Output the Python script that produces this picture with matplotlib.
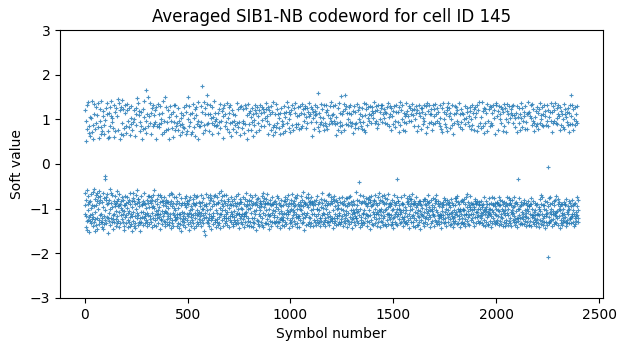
import numpy as np
import matplotlib
matplotlib.use("Agg")
import matplotlib.pyplot as plt

# averaged soft values, in hundredths, one per symbol (40 symbols per row)
soft_values_x100 = [
    -93, 121, -112, -64, 51, -116, -142, -81, 97, -127, 78, -58, -147, 131, -89, -104, -71, 138, -125, 69, -118, -86, -152, 84, -114, 62, -83, -128, 106, -133, -67, 102, -98, 141, -91, -124, 72, -111, -139, 56,
    88, -118, -63, 134, -95, -57, -129, 112, -79, -150, 79, -123, -108, -70, 91, -137, 127, -92, -66, -121, -84, 109, -145, 82, -74, 136, -100, -126, 59, -61, -88, -134, 124, -72, 96, -115, -80, 140, -130, 66,
    -113, 82, -129, -86, -141, 73, -122, 107, -65, 118, -96, -146, 87, -117, -135, -76, 66, -27, -33, 99, -126, -102, 125, -81, -73, -132, 111, -90, -67, 136, -119, 58, -155, 74, -87, -121, -109, 61, -128, 114,
    -80, 127, -101, -136, 85, -56, 108, -122, 140, -88, -64, -131, -97, 104, -69, 93, -115, -124, -145, 81, -84, 60, -111, 132, -130, -95, -72, 116, -90, 73, -139, -106, 125, -87, -123, -60, 107, -82, -132, -117,
    77, -95, -127, 146, -78, 137, -107, -91, -141, -68, 120, -89, 55, -133, -114, 68, 128, -84, -99, -124, -74, 143, -102, 92, -130, 64, -112, -80, 122, -105, -138, 80, -93, -147, 115, -71, -92, -119, 132, -87,
    -115, 86, -132, 70, 121, -99, -73, 135, -126, 96, -86, -142, -110, 83, -106, -130, 126, -81, 65, -118, -139, -90, -66, 104, -135, 89, -113, 129, -96, -151, 76, -117, -84, -128, 93, -108, -65, -77, 120, -138,
    101, -82, -133, -117, -90, 63, -144, 113, -101, 88, -69, 126, -122, -58, -110, 147, -88, -136, 137, -79, -78, -114, 109, -131, -85, 118, -95, 73, -150, 95, -120, -132, -71, -108, 85, -129, 116, -92, 57, -119,
    -90, 124, -107, 78, -137, -83, 105, -87, -121, -66, 141, -112, 81, -132, -117, -89, -99, 69, 165, -125, 97, -80, -140, 112, -131, -109, -72, 86, -115, 151, -88, -134, -71, 107, -96, -124, 136, -84, 92, -117,
    67, -130, -88, 115, -74, -97, -142, 125, -110, -81, 84, -121, 133, -94, -69, 110, -137, 89, -99, -59, -125, 121, -83, -114, 94, -139, 57, -105, 127, -78, -112, -120, -90, 85, 135, -111, -70, -102, -132, 90,
    -119, 83, 112, -96, -146, -69, -86, 129, -113, 101, -73, -125, 92, -124, -105, -84, 66, -134, 114, -91, 142, -117, -82, -74, -128, 97, -110, 71, -140, 149, -88, -106, -131, -80, 77, 127, -108, -94, -86, -123,
    95, -109, -135, 120, -85, 79, -117, -99, -137, -70, 106, -129, 56, -112, -89, 130, -122, -66, 113, -82, -144, 96, -95, -125, -68, -132, 81, 116, -109, -87, 60, -138, -99, -114, 132, -75, 93, -126, -102, 75,
    -118, 133, -89, 84, -124, -74, 107, -139, 92, -119, -111, -83, 76, -133, 125, -99, -67, 97, -143, -112, -87, 64, -121, 87, -135, -113, -91, 104, -76, -149, 114, 90, -107, -127, 72, -88, -124, -117, 82, -136,
    109, -87, 80, -130, -109, 128, -77, -93, -121, -141, 68, 117, -96, -71, 133, -125, -87, -111, 74, -84, -134, 151, -90, 100, -117, 84, -147, -109, -81, 130, -104, -73, 93, -129, 113, -94, -138, 66, -118, -112,
    -100, 72, -126, 115, -87, -114, -78, 135, -132, 83, -89, 103, -144, -69, 123, -109, -92, -121, 62, -139, 110, -88, -75, 127, -129, 89, -115, -104, -72, 96, -135, 55, -113, 138, -85, -124, 85, -107, -95, -131,
    84, -117, -88, 130, -70, -109, -140, 93, -125, -100, 117, 175, -86, -133, 70, -100, -114, -76, 139, -121, 88, -91, -150, 113, -109, 76, -159, 125, -89, -119, -94, -68, 134, -130, 89, -103, 155, -75, -126, 111,
    -132, 92, -122, -88, -112, 74, -138, 113, -81, 132, -100, -69, 104, -125, -76, -117, -145, 128, 91, -94, -121, 67, -117, -84, -135, 106, -110, 87, 140, -90, -72, -129, 96, -70, 114, -125, -89, -141, 84, -103,
    101, -124, -75, 88, -131, -109, -88, 70, -136, 114, -86, 93, -118, -66, 122, -132, -111, -99, 81, -143, 134, -80, -113, 97, -61, -126, -90, 118, -104, -71, 58, 126, -139, -94, 108, -120, -69, -83, 132, -116,
    -88, 111, -132, -103, 86, -120, -70, -128, 95, -113, 137, -91, 78, -136, -107, 103, -84, -121, -78, 127, -99, 114, -142, 72, -89, -117, 131, 91, -125, -75, -107, -93, 62, -131, 121, -111, -82, 94, -117, -135,
    79, -92, 113, -139, -78, 96, -119, -126, -105, 87, -130, -88, 109, -71, -134, -115, -95, 71, 92, -125, -110, 137, -87, -100, -133, 82, -67, 122, -112, 94, -144, -113, -90, -79, 65, 128, -121, -86, -99, -129,
    -116, 130, -86, 81, -135, -111, -101, 91, 124, -73, -124, 96, -112, -142, 70, -117, -89, -109, 132, -78, 90, -131, -107, -94, -66, 125, -117, 56, -137, 110, -92, -83, -120, 135, -100, 75, -127, -90, 114, -80,
    -138, 90, -99, 118, -70, -130, 105, -83, -139, -110, 77, -91, 125, -122, -75, 93, -141, 113, -88, 63, -131, -105, -120, 87, 99, -133, 120, -89, -69, 132, -113, -85, -102, 71, -148, 115, -79, 127, -92, -125,
    108, -76, -128, 91, -134, -96, -113, 75, -139, 121, -88, -117, -82, 131, -104, 84, -130, -90, 114, -95, -72, -136, 99, -121, 128, -84, -65, -110, 124, -141, -96, 86, 116, -76, -115, 103, -133, -89, -88, 136,
    -102, 124, -79, -132, -87, 107, -124, 96, -68, 128, -112, -88, 67, -135, -116, -100, 89, -145, 120, -81, -90, -114, -128, 112, 77, -91, -138, 129, -109, -89, -74, 117, -129, -102, 83, -90, 139, 65, -119, -85,
    88, -115, -129, -82, -133, 72, 111, -105, -89, 134, -127, 82, -96, -118, -71, 123, -139, 92, -100, 113, -130, -77, 80, -131, -110, 102, -88, -124, 68, -143, 115, -92, -95, -121, 126, -81, -106, -136, 84, -112,
    -125, 97, -92, 70, -126, -119, 89, -140, 114, -84, -109, 129, -75, 105, -129, -83, 73, -111, -134, 117, -90, 139, -102, -79, 91, -122, -108, -69, 128, -113, -95, 81, -144, 116, 100, -87, -126, 71, -133, -105,
    113, -131, -80, 121, -100, -89, -121, -67, 132, 87, -138, -102, -88, -115, 76, 126, -108, -94, -83, -127, 114, -73, 137, -134, -91, 82, -118, -112, 90, -77, -132, 107, -69, -100, -142, 127, -117, 89, -89, -120,
    -95, 78, -141, 110, -116, -85, 129, -100, -126, 81, -102, 115, -71, -92, -133, -111, 134, -80, 86, -121, -63, 122, -94, -129, 112, -86, 96, -147, -109, 125, -87, -119, -89, 130, -75, 106, -136, 80, -114, -93,
    126, -110, 91, -76, -134, 117, -96, -68, -130, 136, -86, -118, 108, -82, -140, -90, 113, -122, 95, -73, -104, 128, -132, -85, 63, -113, 123, -87, -100, 103, -138, -92, 116, -125, -82, 79, -111, 132, -130, 109,
    -89, 119, -117, -81, 94, -137, 112, -100, -72, 127, -126, -100, -90, 160, 82, -113, -132, 115, -86, -131, -102, 73, -139, 106, -120, 90, -122, -78, -128, 94, -96, 135, -66, -115, -88, 123, -134, 87, -99, -110,
    104, -80, -131, 131, -111, 76, -93, -126, 91, -121, -140, 85, 116, -100, -84, 132, -129, -92, -113, 78, 121, -87, -69, -129, -118, 110, -136, 89, -107, -68, 130, -127, -89, 104, -116, -84, -75, 139, -124, 97,
    -128, 92, 110, -88, -120, 129, -104, -79, -143, 113, -84, 96, -132, -121, -71, -112, 89, 133, -95, -127, 106, -81, 65, -137, -116, -100, 91, -122, -85, 125, -99, -134, 77, -91, 137, -114, -110, -129, -76, 86,
    115, -135, -86, 95, 71, 152, -100, -124, -129, -88, 112, -117, -74, 87, -139, 119, -102, -90, 134, -128, -82, 76, -111, 124, -120, 155, -91, -133, -105, 90, -114, -77, 130, -126, -76, -94, 114, -142, 101, -87,
    -110, 88, -127, 127, -89, -75, 114, -134, 93, -71, -118, 133, -104, -85, 111, 85, -130, -124, -113, -93, 91, -144, 118, -82, -102, 70, -122, -110, 129, -89, -107, -129, 81, -117, -136, 117, 89, -100, -62, -121,
    91, -120, 134, -92, -108, -128, -80, 81, 120, -106, -133, 100, -84, -40, 128, -115, -70, -142, 112, 93, -100, -126, 85, -88, -133, -118, 107, 78, -136, -86, 125, -110, -71, 95, -113, -131, -102, 137, -82, 76,
    -132, 109, -87, 72, -122, 124, -113, -90, -76, 135, -94, -127, 87, -115, -139, -88, 104, 127, -117, -79, -74, -130, 113, 96, -102, -145, 130, -85, -80, -114, -126, 110, 92, -94, -72, 119, -135, -91, 128, -107,
    114, -90, -136, 104, -82, -118, 139, -111, -81, 91, 118, -132, -100, -70, -113, 129, -87, -124, 97, -140, -107, 80, -93, 121, -129, -73, 89, -112, 133, -102, -65, -120, -88, 116, -141, 101, -105, -80, -128, 131,
    -100, 125, -115, -83, 94, -130, -72, 132, -108, -121, 111, -85, -137, 104, -90, -69, 123, -116, 92, -134, -76, -104, 117, -88, -140, 114, -100, -125, -79, 128, -111, 89, -96, -67, -135, 136, -113, -90, 106, -119,
    84, -111, 130, -124, -95, 113, -88, -136, -90, 125, -115, 77, -102, -129, 107, -134, -80, -120, 89, -100, -143, 119, -86, -69, 129, -119, -92, 97, -131, -112, 83, -107, -134, 132, -88, 116, -101, -75, -33, -117,
    -137, 95, -84, 117, -112, -82, 128, -100, -124, 71, -91, 138, -113, -104, -133, 87, -75, 120, -108, -130, 101, -89, -118, 132, -87, -102, 76, -124, -140, -90, 115, -70, 94, -119, -128, -110, 73, -132, 107, -96,
    112, -129, 92, -102, 136, -86, -117, -77, 118, -135, -90, 107, -84, -125, -72, 130, -111, 96, -144, -79, -104, 126, -95, -121, 113, 96, -131, -87, -78, 134, -116, -100, 121, -67, -139, -89, 109, -114, -130, -84,
    -90, 85, -121, 124, -107, -141, 101, -87, -97, 129, -126, -73, 114, -110, -91, -136, 74, 121, -88, -117, -137, -102, 86, -131, -83, 115, 132, -119, -89, -105, -146, 107, -82, 126, -113, 79, -125, -92, -99, 116,
    125, -114, -84, 104, -132, 90, -116, -78, -138, 96, 133, -108, -122, -79, -90, 112, -129, 70, 129, -100, -118, -92, -83, 137, -109, 82, -134, -88, 118, -106, -124, -70, 92, -115, 131, -96, -85, -141, 113, -102,
    -119, 93, 111, -133, -81, 123, -105, -100, 77, -128, -92, 131, -113, -76, 89, -115, -139, 107, -96, 124, -116, -87, 135, -125, -79, 92, -102, -131, 111, -70, -84, -135, 126, -108, 97, -90, -128, 117, -82, -114,
    91, -135, -122, -94, -117, 85, 132, -111, -87, 104, -130, -114, 78, -119, -143, 125, -89, -97, -106, 71, -124, 136, -93, -85, -115, -77, 116, -133, 100, -107, -130, -81, -121, 90, 111, -100, -138, 82, -90, 127,
    -112, 120, -81, 73, -130, -102, -88, 137, -119, 107, -85, -113, 126, -93, -136, -96, 80, 115, -124, -79, -109, -134, 100, -88, 132, -116, -107, 87, -128, -121, -92, 68, -142, 113, -102, 91, -118, -133, -77, -111,
    130, -92, -127, 114, -84, -107, -76, 127, -134, 97, -115, -72, 121, -100, -132, 90, -86, 136, -117, -106, -90, -124, 82, 111, -141, -100, -105, 124, -83, -113, 94, -132, -120, -80, 78, -130, 114, -100, -102, -135,
    -86, 111, -115, -133, 100, -79, -102, 130, -90, -124, 89, -139, -112, 104, -74, -111, 126, -96, -68, -128, 117, -106, -86, 93, -134, -118, -91, 108, -137, 85, -114, 119, -100, -71, 128, -97, -126, -88, 79, -111,
    100, -122, 87, -104, -89, 133, -131, -90, 115, -113, -97, 77, -140, 124, -101, -83, -78, 127, -118, 105, -108, -88, -133, -90, 114, 74, -119, 132, -82, -107, -100, -127, 84, 121, -115, -92, 138, -86, -132, -89,
    -131, 91, -117, -100, 80, -120, -110, 106, -84, 138, -132, -97, -91, -114, 119, 86, -136, -107, -89, -126, 70, 125, -104, -74, -101, -139, 92, -111, 122, -96, -83, -129, -106, 115, 134, -90, -118, 73, -107, -134,
    97, -115, -136, 124, -90, -100, -109, -77, 130, -128, 84, -111, -100, -142, 92, -117, 128, -88, -73, -104, -133, 114, 87, -120, -89, 132, -107, -92, -127, -76, 120, 102, -135, -87, -113, -95, 68, -130, 136, -101,
    -114, 131, -86, -125, 108, -88, -133, -102, 77, 119, -116, -89, 130, -106, -92, -137, -75, 113, -128, 100, -81, -92, -118, 127, -135, 91, -111, -100, -84, 123, -121, 74, -140, -105, -90, 116, -109, 134, -129, -86,
    86, -104, 126, -140, -94, -114, 72, -125, 100, -88, -132, 134, -109, -91, -73, 118, -114, -136, 95, 111, -100, -127, -76, -90, 130, -120, -81, 104, -88, -133, 115, -107, 124, -92, -139, -80, -113, 110, -102, 129,
    -125, 92, -110, -96, 132, -74, -130, 109, -95, -117, 83, -123, -137, 103, -87, -106, 114, -131, -86, 130, -120, -90, 71, -142, -34, 105, -100, -121, -128, 91, -77, 126, -115, -100, 75, -134, 113, -94, -122, 136,
    104, -132, -86, -91, -118, 126, -107, 82, -134, -124, -89, 96, -113, 117, -135, -80, 108, -88, -127, -102, 129, -116, 78, -87, -118, -138, 93, -109, 113, -100, -131, -92, 79, -120, 139, -105, -83, 114, -136, -95,
    -94, 117, -137, 107, -89, -112, -127, 131, -90, 104, -77, -140, -115, -119, 88, 134, -100, -130, 96, -82, -114, 123, -107, -122, 92, -134, 74, -88, -126, -115, 106, -102, -139, 85, 118, -92, -130, -124, 90, -112,
    127, -89, -111, 78, -132, 115, -100, -142, -96, 122, -114, 91, -79, -125, 136, -105, -70, 109, -135, -90, 100, -128, 128, -74, -112, 88, -120, -136, -91, 113, 85, -116, -131, 132, -100, -91, -84, 107, -143, 118,
    -117, 87, -112, -130, -102, 132, -86, 96, -137, -110, -7, 120, -208, -95, 86, -119, -129, -76, -133, 106, 116, -107, -90, -73, -127, 137, -113, 97, -100, -125, -139, 72, -87, 117, -105, -124, -112, 91, 130, -82,
    96, -134, -93, 120, -109, -115, -80, 136, -129, 92, -107, -116, -72, -132, 104, 89, -120, 125, -105, -89, 133, -136, -78, 113, -100, -116, 108, -85, 75, -143, 127, -102, -94, -126, -90, 119, 88, -133, -114, -110,
    -136, 111, -90, 83, -121, -130, -100, 100, -113, 78, 135, -128, -86, 113, -118, -91, 122, -89, -138, 106, -79, -131, 117, 95, -107, -133, -125, -94, 87, 126, -113, -103, -132, -84, 72, 115, -100, 131, -120, -88,
    90, -123, 108, 155, -132, -95, -118, -111, 89, 133, -117, -80, -91, -129, 124, -103, 77, -140, -113, -89, 100, -121, 128, -87, -134, 87, -116, -108, 96, -127, 111, -73, -95, -115, 130, 92, -122, -80, -102, -131,
]

title = "Averaged SIB1-NB codeword for cell ID 145"
x_label = "Symbol number"
y_label = "Soft value"

soft_values = np.array(soft_values_x100) / 100.0
symbols = np.arange(len(soft_values))

fig, ax = plt.subplots(figsize=(6.19, 3.53), dpi=100)
fig.subplots_adjust(left=0.097, right=0.974, top=0.915, bottom=0.156)

ax.plot(symbols, soft_values, "+", color="tab:blue", markersize=2.3,
        markeredgewidth=0.8, alpha=0.8)
ax.set_ylim(-3, 3)
ax.set_title(title)
ax.set_xlabel(x_label)
ax.set_ylabel(y_label)

fig.savefig("out.png")
